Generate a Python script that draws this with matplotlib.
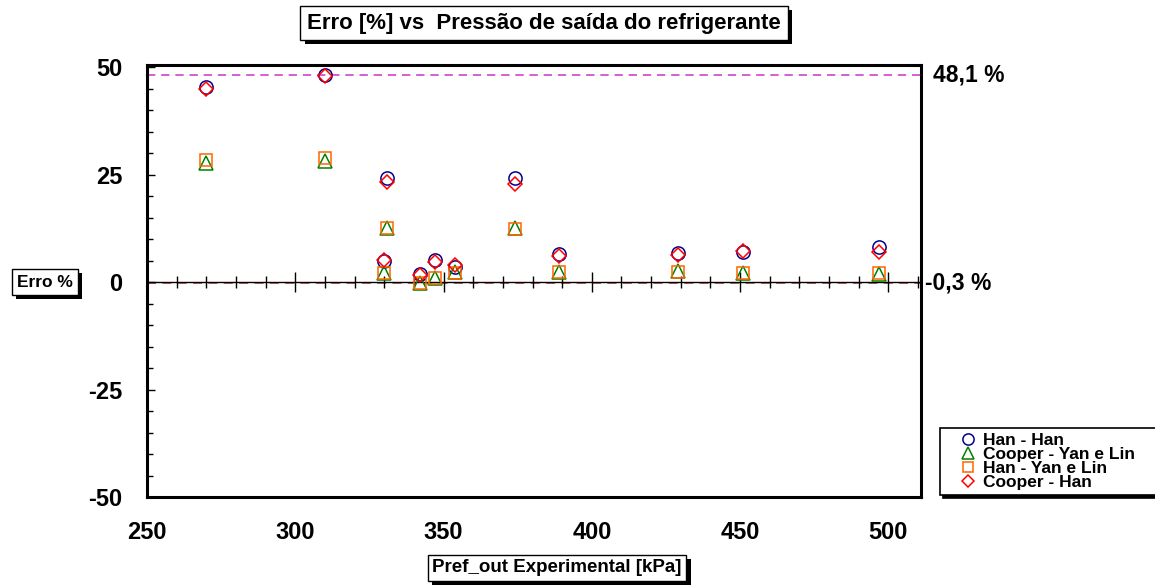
import matplotlib
matplotlib.use("Agg")
import matplotlib.pyplot as plt
import matplotlib.patheffects as pe
from matplotlib.lines import Line2D
import numpy as np

plt.rcParams.update({
    "font.family": ["Liberation Sans", "DejaVu Sans"],
    "font.weight": "bold",
    "axes.unicode_minus": False,
})

# Pressão de saída experimental [kPa]
pressao = [270, 310, 331, 330, 342, 347, 354, 374, 389, 429, 451, 497]

# Erro [%] por combinação de correlações
han_han = [45.4, 48.1, 24.3, 4.8, 1.9, 5.1, 3.6, 24.1, 6.5, 6.7, 7.1, 8.1]
cooper_yan = [27.7, 28.1, 12.5, 2.0, -0.1, 0.9, 2.4, 12.5, 2.3, 2.6, 2.0, 1.9]
han_yan = [28.4, 28.8, 12.5, 2.0, -0.3, 0.9, 2.2, 12.3, 2.3, 2.4, 2.0, 2.0]
cooper_han = [44.9, 47.9, 23.3, 5.1, 1.7, 4.6, 3.9, 22.7, 6.0, 6.3, 7.2, 7.0]

erro_max = 48.1
erro_min = -0.3

x_ticks = [250, 300, 350, 400, 450, 500]
y_ticks = [-50, -25, 0, 25, 50]

series = [
    ("Han - Han", han_han, "o", "#00008B", 9.5),
    ("Cooper - Yan e Lin", cooper_yan, "^", "#008000", 10),
    ("Han - Yan e Lin", han_yan, "s", "#FF6600", 9),
    ("Cooper - Han", cooper_han, "D", "#FF0000", 7),
]

fig = plt.figure(figsize=(11.55, 5.85), dpi=100)
ax = fig.add_axes([147 / 1155, 88 / 585, 774 / 1155, 432 / 585])
ax.set_xlim(250.5, 511)
ax.set_ylim(-50, 50.5)

for s in ax.spines.values():
    s.set_linewidth(2.2)
    s.set_color("black")

# linhas de referência (máximo e mínimo)
ax.axhline(erro_max, color="#CC44CC", lw=1.2, ls=(0, (5, 3.5)), zorder=1)
ax.axhline(erro_min, color="#C05858", lw=1.3, ls=(0, (5, 3.5)), zorder=1)
ax.axhline(0, color="black", lw=1, zorder=2)

# marcas sobre a linha do zero
minor_x = np.arange(260, 511, 10)
for xv in minor_x:
    size = 14 if xv % 50 == 0 else 9
    ax.plot([xv], [0], marker="|", color="black", ms=size, mew=1, zorder=2)

for label, vals, mk, col, ms in series:
    ax.plot(pressao, vals, ls="none", marker=mk, ms=ms, mfc="none",
            mec=col, mew=1.1, label=label, zorder=3)

ax.set_xticks(x_ticks)
ax.set_xticklabels([str(v) for v in x_ticks], fontsize=17, fontweight="bold")
ax.tick_params(axis="x", length=0, pad=17)
ax.set_yticks(y_ticks)
ax.set_yticklabels([str(v) for v in y_ticks], fontsize=17, fontweight="bold")
ax.set_yticks(np.arange(-45, 50, 5), minor=True)
ax.tick_params(axis="y", which="minor", direction="in", length=4.5, width=1, pad=17.5)
ax.tick_params(axis="y", which="major", direction="in", length=5.5, width=1, pad=17.5)

ax.annotate("48,1 %", xy=(1, erro_max), xycoords=("axes fraction", "data"),
            xytext=(8.5, 0), textcoords="offset points", va="center", ha="left",
            fontsize=16.5, fontweight="bold")
ax.annotate("-0,3 %", xy=(1, erro_min), xycoords=("axes fraction", "data"),
            xytext=(3, 0), textcoords="offset points", va="center", ha="left",
            fontsize=16.5, fontweight="bold")

shadow = [pe.withSimplePatchShadow(offset=(3, -3), shadow_rgbFace="black", alpha=1)]


def box_text(x, y, s, size, pad):
    t = fig.text(x, y, s, ha="center", va="center", fontsize=size, fontweight="bold",
                 bbox=dict(boxstyle=f"square,pad={pad}", fc="white", ec="black", lw=1))
    t.get_bbox_patch().set_path_effects(shadow)
    return t


box_text(544 / 1155, 1 - 23 / 585, "Erro [%] vs  Pressão de saída do refrigerante", 16, 0.3)
box_text(557 / 1155, 1 - 568 / 585, "Pref_out Experimental [kPa]", 13.5, 0.25)
box_text(45 / 1155, 1 - 282 / 585, "Erro %", 12.5, 0.3)

handles = [Line2D([], [], ls="none", marker=mk, ms=ms * 0.85, mfc="none", mec=col, mew=1.1)
           for _, _, mk, col, ms in series]
leg = fig.legend(handles, [s[0] for s in series], loc="upper left",
                 bbox_to_anchor=(940 / 1155, 1 - 492 / 585, 230 / 1155, 64 / 585),
                 mode="expand", borderaxespad=0, prop={"size": 12.5, "weight": "bold"},
                 handlelength=2.6, handletextpad=-0.4, labelspacing=-0.07,
                 borderpad=0.3, fancybox=False,
                 shadow={"color": "black", "alpha": 1})
leg.get_frame().set_edgecolor("black")
leg.get_frame().set_linewidth(1.2)

fig.savefig("out.png", dpi=100)
